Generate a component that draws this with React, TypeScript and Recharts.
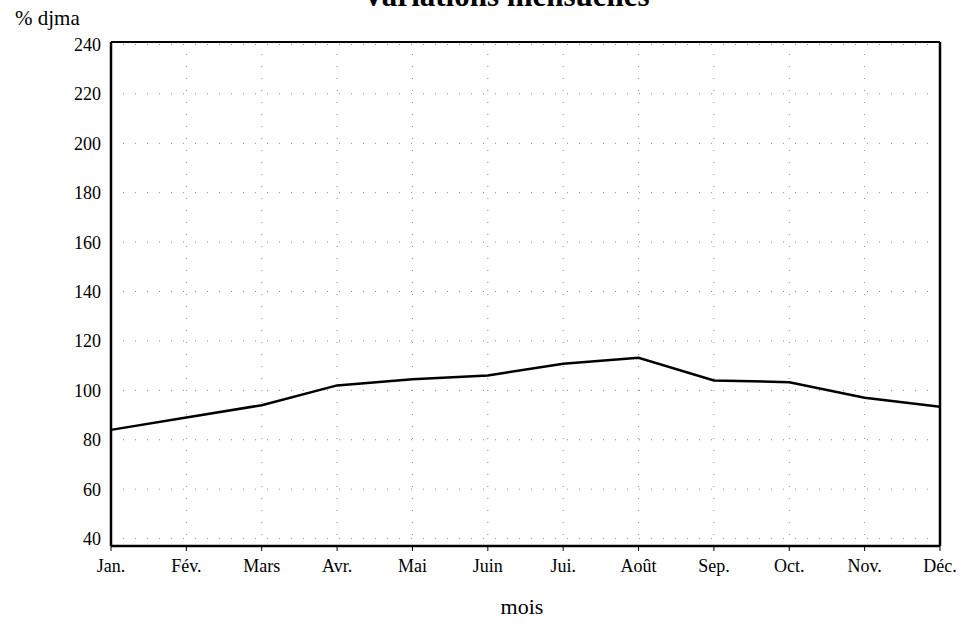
import React from 'react';
import { LineChart, Line, XAxis, YAxis, CartesianGrid, ReferenceLine } from 'recharts';

const months = ['Jan.', 'Fév.', 'Mars', 'Avr.', 'Mai', 'Juin', 'Jui.', 'Août', 'Sep.', 'Oct.', 'Nov.', 'Déc.'];
const djmaPct = [84, 89, 94, 102, 104.5, 106, 110.8, 113.2, 104, 103.3, 97, 93.4];
const yTicks = [40, 60, 80, 100, 120, 140, 160, 180, 200, 220, 240];

const data = months.map((m, i) => ({ mois: m, pct: djmaPct[i] }));

const serif = '"Liberation Serif", "DejaVu Serif", serif';

const App: React.FC = () => {
  return (
    <div style={{ position: 'absolute', left: 0, top: 0, width: 972, height: 626, background: '#fff', fontFamily: serif }}>
      <div style={{ position: 'absolute', left: 0, width: 972, top: -22, textAlign: 'center', fontSize: 31, fontWeight: 'bold', paddingLeft: 20 }}>
        Variations mensuelles
      </div>
      <div style={{ position: 'absolute', left: 15, top: 6, fontSize: 21 }}>% djma</div>
      <div style={{ position: 'absolute', left: 0, width: 972, top: 594, textAlign: 'center', fontSize: 22, paddingLeft: 36 }}>mois</div>
      <LineChart
        width={972}
        height={626}
        data={data}
        margin={{ top: 42, right: 32, left: 51, bottom: 50 }}
      >
        <CartesianGrid stroke="#888" strokeDasharray="1 11" />
        <XAxis
          dataKey="mois"
          height={30}
          tickSize={5}
          tickMargin={8}
          axisLine={{ stroke: '#000', strokeWidth: 2.5 }}
          tickLine={{ stroke: '#000' }}
          tick={{ fill: '#000', fontSize: 18, fontFamily: serif }}
          interval={0}
        />
        <YAxis
          width={60}
          domain={[37, 241]}
          ticks={yTicks}
          allowDataOverflow
          tickSize={0}
          tickMargin={10}
          axisLine={{ stroke: '#000', strokeWidth: 2.5 }}
          tickLine={false}
          tick={{ fill: '#000', fontSize: 18, fontFamily: serif }}
        />
        <ReferenceLine y={241} stroke="#000" strokeWidth={2} />
        <ReferenceLine x="Déc." stroke="#000" strokeWidth={2.5} />
        <Line
          type="linear"
          dataKey="pct"
          stroke="#000"
          strokeWidth={2.5}
          dot={false}
          isAnimationActive={false}
        />
      </LineChart>
    </div>
  );
};

export default App;
